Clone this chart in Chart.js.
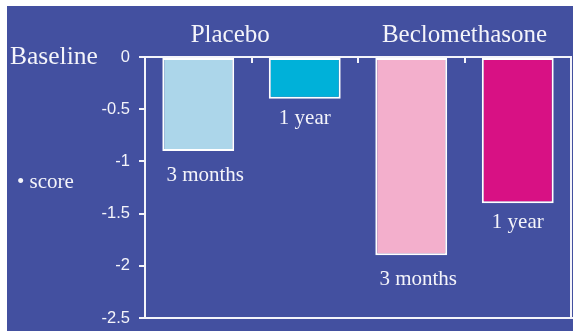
<!DOCTYPE html>
<html>
<head>
<meta charset="utf-8">
<script src="https://cdn.jsdelivr.net/npm/chart.js@4/dist/chart.umd.min.js"></script>
<style>
  html, body { margin: 0; padding: 0; background: #ffffff; }
  canvas { display: block; }
</style>
</head>
<body>
<canvas id="chart" width="573" height="331"></canvas>
<script>
// Change in score from baseline, by treatment and time point
const categories = ['3 months', '1 year', '3 months', '1 year'];
const scoreChange = [-0.9, -0.4, -1.9, -1.4];
const groups = ['Placebo', 'Beclomethasone'];
const yTickValues = [0, -0.5, -1, -1.5, -2, -2.5];
const barColors = ['#acd6ea', '#00b1d9', '#f3afcc', '#d81184'];

const PANEL = '#4350a0';
const INK = '#f4f4fa';
const SERIF = '"Liberation Serif", "Times New Roman", serif';
const SANS = '"Liberation Sans", Arial, sans-serif';

const decorations = {
  id: 'decorations',
  beforeDraw(chart) {
    const { ctx, width, height } = chart;
    ctx.save();
    ctx.fillStyle = '#ffffff';
    ctx.fillRect(0, 0, width, height);
    ctx.fillStyle = PANEL;
    ctx.fillRect(7, 6, width - 7, height - 6);
    ctx.restore();
  },
  afterDraw(chart) {
    const { ctx, chartArea: a } = chart;
    const x = chart.scales.x;
    ctx.save();
    ctx.strokeStyle = INK;
    ctx.lineWidth = 2;
    // right and bottom frame
    ctx.beginPath();
    ctx.moveTo(a.right, a.top);
    ctx.lineTo(a.right, a.bottom);
    ctx.moveTo(a.left, a.bottom);
    ctx.lineTo(chart.width, a.bottom);
    ctx.stroke();
    // category separators hanging from the top axis
    ctx.beginPath();
    for (let i = 0; i < categories.length - 1; i++) {
      const px = Math.round(x.getPixelForValue(i + 0.5));
      ctx.moveTo(px, a.top);
      ctx.lineTo(px, a.top + 6);
    }
    ctx.stroke();

    ctx.fillStyle = INK;
    // time-point labels under each bar
    ctx.font = '21px ' + SERIF;
    ctx.textAlign = 'center';
    ctx.textBaseline = 'top';
    chart.getDatasetMeta(0).data.forEach((bar, i) => {
      const longLabel = i % 2 === 0;
      ctx.fillText(categories[i], bar.x + (longLabel ? 7 : 0), bar.y + (longLabel ? 14 : 9));
    });
    // treatment group headings
    ctx.font = '25px ' + SERIF;
    ctx.textBaseline = 'alphabetic';
    ctx.fillText(groups[0], x.getPixelForValue(0.3), 42);
    ctx.fillText(groups[1], x.getPixelForValue(2.5), 42);
    // left-hand annotations
    ctx.textAlign = 'left';
    ctx.font = '25.5px ' + SERIF;
    ctx.fillText('Baseline', 10, 64);
    ctx.font = '21px ' + SERIF;
    ctx.fillText('\u2022 score', 17, 188);
    ctx.restore();
  }
};

new Chart(document.getElementById('chart'), {
  type: 'bar',
  data: {
    labels: categories,
    datasets: [{
      data: scoreChange,
      backgroundColor: barColors,
      borderColor: '#ffffff',
      borderWidth: 2,
      borderSkipped: false,
      barPercentage: 0.675,
      categoryPercentage: 1
    }]
  },
  options: {
    responsive: false,
    animation: false,
    devicePixelRatio: 1,
    layout: { padding: { left: 0, top: 57, right: 2, bottom: 13 } },
    plugins: { legend: { display: false }, tooltip: { enabled: false } },
    scales: {
      x: {
        position: 'top',
        afterFit(scale) { scale.height = 0; },
        ticks: { display: false },
        grid: { display: true, drawOnChartArea: false, drawTicks: false },
        border: { display: true, color: INK, width: 2 }
      },
      y: {
        min: -2.5,
        max: 0,
        afterFit(scale) {
          scale.width = 145;
          scale.paddingTop = 0;
          scale.paddingBottom = 0;
        },
        afterBuildTicks(scale) { scale.ticks = yTickValues.map(v => ({ value: v })); },
        ticks: {
          color: INK,
          font: { family: SANS, size: 16.5 },
          padding: 9,
          callback: v => String(v)
        },
        grid: { drawOnChartArea: false, drawTicks: true, tickLength: 6, color: INK, lineWidth: 2 },
        border: { display: true, color: INK, width: 2 }
      }
    }
  },
  plugins: [decorations]
});
</script>
</body>
</html>
